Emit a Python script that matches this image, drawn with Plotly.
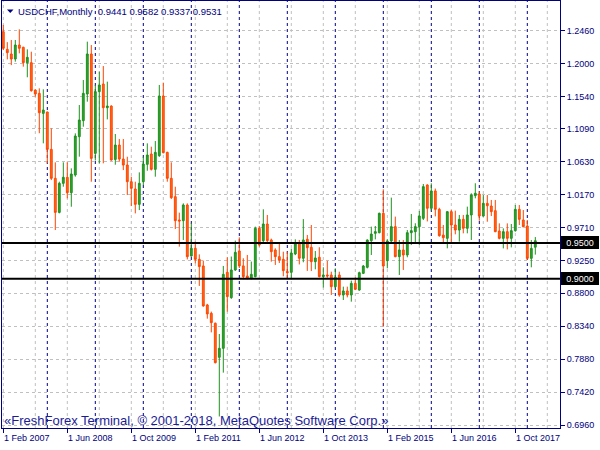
import plotly.graph_objects as go

# ---------------- data ----------------
# monthly bars, index 0 = Feb 2007 ... index 133 = Mar 2018
opens = [1.2446, 1.2200, 1.2135, 1.2065, 1.2260, 1.2228, 1.2014, 1.2014, 1.1632, 1.1586,
         1.1307, 1.1326, 1.0805, 1.0401, 0.9926, 1.0331, 1.0415, 1.0201, 1.0447, 1.0982,
         1.1205, 1.1577, 1.2135, 1.0749, 1.1610, 1.1716, 1.1386, 1.1409, 1.0665, 1.0865,
         1.0670, 1.0586, 1.0354, 1.0252, 1.0038, 1.0354, 1.0596, 1.0740, 1.0526, 1.0717,
         1.1549, 1.0763, 1.0401, 1.0145, 0.9820, 0.9810, 1.0029, 0.9318, 0.9425, 0.9271,
         0.9179, 0.8635, 0.8518, 0.8379, 0.7905, 0.8030, 0.9090, 0.8737, 0.9123, 0.9388,
         0.9180, 0.9039, 0.9002, 0.9030, 0.9704, 0.9532, 0.9764, 0.9541, 0.9402, 0.9309,
         0.9271, 0.9100, 0.9090, 0.9346, 0.9506, 0.9286, 0.9551, 0.9439, 0.9239, 0.9300,
         0.9030, 0.9053, 0.9052, 0.8890, 0.9052, 0.8774, 0.8830, 0.8774, 0.8936, 0.8843,
         0.9076, 0.9160, 0.9531, 0.9634, 0.9643, 0.9913, 0.9253, 0.9527, 0.9727, 0.9309,
         0.9402, 0.9332, 0.9643, 0.9657, 0.9727, 0.9843, 1.0308, 0.9983, 1.0225, 0.9968,
         0.9610, 0.9564, 0.9936, 0.9750, 0.9680, 0.9829, 0.9704, 0.9890, 1.0160, 1.0182,
         0.9875, 1.0052, 1.0015, 0.9950, 0.9666, 0.9564, 0.9657, 0.9564, 0.9671, 0.9968,
         0.9820, 0.9736, 0.9285, 0.9441]
highs = [1.2540, 1.2300, 1.2330, 1.2330, 1.2479, 1.2237, 1.2200, 1.2167, 1.1640, 1.1656,
         1.1642, 1.1330, 1.1098, 1.0624, 1.0354, 1.0624, 1.0624, 1.0540, 1.1028, 1.1423,
         1.1772, 1.2307, 1.2260, 1.1700, 1.1888, 1.1967, 1.1749, 1.1419, 1.1019, 1.0949,
         1.0949, 1.0702, 1.0423, 1.0354, 1.0484, 1.0702, 1.0889, 1.0842, 1.0921, 1.1703,
         1.1735, 1.0772, 1.0624, 1.0284, 0.9922, 1.0052, 1.0052, 0.9774, 0.9518, 0.9340,
         0.9253, 0.8650, 0.8542, 0.8390, 0.8230, 0.9179, 0.9300, 0.9310, 0.9532, 0.9578,
         0.9286, 0.9332, 0.9240, 0.9727, 0.9736, 0.9969, 0.9890, 0.9560, 0.9425, 0.9494,
         0.9378, 0.9378, 0.9420, 0.9550, 0.9541, 0.9832, 0.9611, 0.9750, 0.9387, 0.9440,
         0.9160, 0.9250, 0.9099, 0.9145, 0.9099, 0.8890, 0.8890, 0.8974, 0.9020, 0.9099,
         0.9192, 0.9550, 0.9727, 0.9736, 0.9922, 1.0248, 0.9550, 1.0132, 0.9867, 0.9541,
         0.9541, 0.9680, 0.9904, 0.9774, 0.9946, 1.0322, 1.0318, 1.0331, 1.0258, 0.9990,
         0.9750, 0.9945, 0.9960, 0.9950, 0.9890, 0.9890, 1.0006, 1.0192, 1.0332, 1.0220,
         1.0168, 1.0168, 1.0099, 1.0099, 0.9773, 0.9703, 0.9773, 0.9764, 1.0029, 1.0029,
         0.9959, 0.9820, 0.9541, 0.9582]
lows = [1.2190, 1.2060, 1.1980, 1.2028, 1.2144, 1.1958, 1.1810, 1.1610, 1.1540, 1.1030,
        1.0889, 1.0610, 1.0377, 0.9680, 0.9912, 1.0284, 1.0122, 1.0005, 1.0424, 1.0703,
        1.1121, 1.1470, 1.0354, 1.0650, 1.0610, 1.0610, 1.1223, 1.0647, 1.0591, 1.0633,
        1.0516, 1.0168, 1.0014, 0.9912, 0.9958, 1.0307, 1.0507, 1.0510, 1.0424, 1.0700,
        1.0749, 1.0354, 1.0112, 0.9694, 0.9448, 0.9541, 0.9270, 0.9308, 0.9216, 0.8900,
        0.8611, 0.8444, 0.8253, 0.7820, 0.7080, 0.7691, 0.8542, 0.8720, 0.9110, 0.9150,
        0.8993, 0.8993, 0.8993, 0.9020, 0.9448, 0.9495, 0.9485, 0.9239, 0.9193, 0.9220,
        0.9035, 0.9006, 0.8992, 0.9330, 0.9200, 0.9230, 0.9110, 0.9108, 0.9132, 0.9020,
        0.8878, 0.9015, 0.8774, 0.8867, 0.8750, 0.8704, 0.8741, 0.8681, 0.8843, 0.8834,
        0.9066, 0.9145, 0.9332, 0.9550, 0.9634, 0.8332, 0.9146, 0.9495, 0.9300, 0.9053,
        0.9123, 0.9300, 0.9472, 0.9495, 0.9472, 0.9820, 0.9800, 0.9950, 0.9870, 0.9587,
        0.9485, 0.9425, 0.9509, 0.9620, 0.9518, 0.9634, 0.9634, 0.9541, 1.0122, 0.9810,
        0.9866, 0.9796, 0.9875, 0.9650, 0.9550, 0.9424, 0.9410, 0.9438, 0.9657, 0.9750,
        0.9717, 0.9262, 0.9160, 0.9337]
closes = [1.2214, 1.2153, 1.2065, 1.2260, 1.2214, 1.2014, 1.2088, 1.1623, 1.1577, 1.1316,
          1.1353, 1.0805, 1.0401, 0.9926, 1.0331, 1.0415, 1.0201, 1.0461, 1.0991, 1.1214,
          1.1586, 1.2135, 1.0679, 1.1610, 1.1702, 1.1386, 1.1409, 1.0656, 1.0865, 1.0670,
          1.0586, 1.0354, 1.0261, 1.0038, 1.0331, 1.0600, 1.0726, 1.0526, 1.0763, 1.1549,
          1.0759, 1.0401, 1.0131, 0.9810, 0.9806, 1.0029, 0.9308, 0.9425, 0.9271, 0.9170,
          0.8621, 0.8510, 0.8388, 0.7830, 0.8030, 0.9062, 0.8751, 0.9123, 0.9369, 0.9180,
          0.9030, 0.9002, 0.9062, 0.9704, 0.9472, 0.9764, 0.9532, 0.9378, 0.9309, 0.9262,
          0.9113, 0.9086, 0.9360, 0.9485, 0.9286, 0.9541, 0.9434, 0.9239, 0.9290, 0.9030,
          0.9053, 0.9039, 0.8890, 0.9020, 0.8774, 0.8830, 0.8774, 0.8936, 0.8853, 0.9085,
          0.9178, 0.9540, 0.9624, 0.9657, 0.9913, 0.9178, 0.9527, 0.9727, 0.9309, 0.9402,
          0.9332, 0.9643, 0.9671, 0.9727, 0.9876, 1.0285, 0.9983, 1.0225, 0.9968, 0.9601,
          0.9573, 0.9936, 0.9750, 0.9680, 0.9829, 0.9704, 0.9890, 1.0169, 1.0192, 0.9876,
          1.0052, 1.0019, 0.9936, 0.9657, 0.9564, 0.9657, 0.9564, 0.9671, 0.9968, 0.9829,
          0.9727, 0.9285, 0.9424, 0.9531]
bar_index = list(range(len(opens)))

date_tick_index = [0, 16, 32, 48, 64, 80, 96, 112, 128]
date_tick_labels = ["1 Feb 2007", "1 Jun 2008", "1 Oct 2009", "1 Feb 2011", "1 Jun 2012",
                    "1 Oct 2013", "1 Feb 2015", "1 Jun 2016", "1 Oct 2017"]
year_separator_index = [11, 23, 35, 47, 59, 71, 83, 95, 107, 119, 131]
grid_index = list(range(0, 140, 8))

price_ticks = [1.2460, 1.2000, 1.1540, 1.1090, 1.0630, 1.0170, 0.9710, 0.9250,
               0.8800, 0.8340, 0.7880, 0.7420, 0.6960]
price_tick_labels = ["1.2460", "1.2000", "1.1540", "1.1090", "1.0630", "1.0170", "0.9710",
                     "0.9250", "0.8800", "0.8340", "0.7880", "0.7420", "0.6960"]
level_prices = [0.9500, 0.9000]
level_labels = ["0.9500", "0.9000"]

header_text = "USDCHF,Monthly  0.9441 0.9582 0.9337 0.9531"
footer_text = "«FreshForex Terminal, © 2001-2018, MetaQuotes Software Corp.»"

# ---------------- styling ----------------
NAVY = "#000080"
GRID = "#c0c0c0"
FONT = "Liberation Sans, Arial, sans-serif"
W, H = 600, 450
ML, MR, MT, MB = 2, 40, 1, 22

fig = go.Figure()
fig.add_trace(go.Candlestick(
    x=bar_index, open=opens, high=highs, low=lows, close=closes,
    increasing=dict(line=dict(color="#1f8f1f", width=1), fillcolor="#2ca82c"),
    decreasing=dict(line=dict(color="#ff4500", width=1), fillcolor="#ff6a1a"),
    whiskerwidth=0, hoverinfo="skip", showlegend=False,
))

shapes = []
for gi in grid_index:
    shapes.append(dict(type="line", xref="x", yref="paper", x0=gi, x1=gi, y0=0, y1=1,
                       line=dict(color=GRID, width=1, dash="3px,3px"), layer="below"))
for si in year_separator_index:
    shapes.append(dict(type="line", xref="x", yref="paper", x0=si, x1=si, y0=0, y1=1,
                       line=dict(color=NAVY, width=1, dash="3px,3px"), layer="below"))
for lp in level_prices:
    shapes.append(dict(type="line", xref="paper", yref="y", x0=0, x1=1, y0=lp, y1=lp,
                       line=dict(color="black", width=2), layer="above"))

# small header triangle (pixel -> paper)
pw, ph = W - ML - MR, H - MT - MB
def px(xp):
    return (xp - ML) / pw
def py(yp):
    return (H - MB - yp) / ph
shapes.append(dict(type="path", xref="paper", yref="paper",
                   path=f"M {px(7)},{py(9.5)} L {px(13.5)},{py(9.5)} L {px(10.25)},{py(13)} Z",
                   fillcolor=NAVY, line=dict(color=NAVY, width=0)))

annotations = []
for ti, tl in zip(date_tick_index, date_tick_labels):
    annotations.append(dict(x=ti, xref="x", y=0, yref="paper", text=tl, showarrow=False,
                            xanchor="left", yanchor="middle", xshift=-1, yshift=-10,
                            font=dict(family=FONT, size=9, color=NAVY)))
for lp, ll in zip(level_prices, level_labels):
    annotations.append(dict(x=1, xref="paper", y=lp, yref="y", text=ll, showarrow=False,
                            xanchor="left", yanchor="middle", xshift=1,
                            bgcolor="black", bordercolor="black", borderwidth=1, borderpad=1,
                            width=34, height=9, align="center",
                            font=dict(family=FONT, size=9, color="white")))
annotations.append(dict(x=0, xref="paper", y=1, yref="paper", text=header_text, showarrow=False,
                        xanchor="left", yanchor="middle", xshift=14, yshift=-10,
                        font=dict(family=FONT, size=9.5, color=NAVY)))
annotations.append(dict(x=0, xref="paper", y=0, yref="paper", text=footer_text, showarrow=False,
                        xanchor="left", yanchor="middle", xshift=0, yshift=7.5,
                        font=dict(family=FONT, size=13, color="#1c1c96")))

fig.update_layout(
    width=W, height=H,
    margin=dict(l=ML, r=MR, t=MT, b=MB),
    paper_bgcolor="white", plot_bgcolor="white",
    boxgap=0.35,
    shapes=shapes, annotations=annotations,
    showlegend=False,
    xaxis=dict(range=[-0.325, 139.175], tickmode="array", tickvals=date_tick_index,
               ticktext=[""] * len(date_tick_index), ticks="outside", ticklen=4,
               tickcolor=NAVY, showgrid=False, zeroline=False, showline=True,
               linecolor=NAVY, linewidth=1, mirror=True, rangeslider=dict(visible=False),
               fixedrange=True),
    yaxis=dict(range=[0.6919, 1.2874], side="right", tickmode="array",
               tickvals=price_ticks, ticktext=price_tick_labels, ticks="outside",
               ticklen=4, tickcolor=NAVY, showgrid=True, gridcolor=GRID, griddash="3px,3px",
               gridwidth=1, zeroline=False, showline=True, linecolor=NAVY, linewidth=1,
               mirror=True, tickfont=dict(family=FONT, size=9, color=NAVY), fixedrange=True),
)

fig.write_html("out.html", config={"displayModeBar": False},
               post_script="document.body.style.margin='0';document.body.style.overflow='hidden';")
